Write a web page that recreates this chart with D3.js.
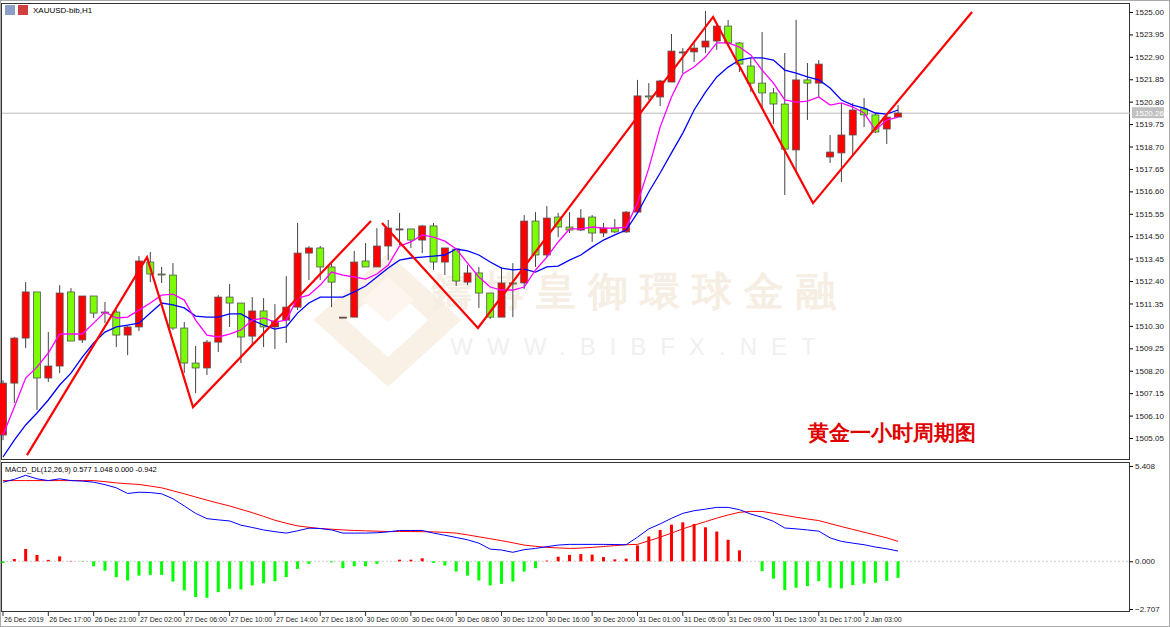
<!DOCTYPE html>
<html><head><meta charset="utf-8">
<script src="https://cdn.jsdelivr.net/npm/d3@7"></script>
<style>
body{margin:0;background:#fff;}
text{font-family:"Liberation Sans",Arial,sans-serif;}
</style></head>
<body><svg id="c" width="1170" height="627"></svg>
<script>
// OHLC per hourly bar (red = up, green = down)
const opens = [1505.19,1507.62,1509.73,1511.89,1507.86,1508.42,1511.89,1509.64,1511.70,1510.95,1510.95,1509.87,1510.25,1513.29,1512.73,1512.68,1510.20,1508.56,1508.33,1509.54,1511.65,1511.37,1509.82,1511.00,1510.25,1510.57,1511.18,1513.71,1513.95,1513.06,1510.71,1510.71,1513.34,1513.06,1514.04,1514.84,1514.84,1514.32,1514.98,1513.29,1513.90,1512.35,1512.78,1511.84,1510.71,1512.31,1512.31,1515.21,1513.62,1515.40,1514.93,1514.79,1515.40,1514.65,1514.88,1514.70,1515.63,1521.07,1521.02,1521.72,1523.13,1523.13,1523.36,1523.64,1524.34,1523.55,1522.47,1521.67,1521.21,1520.69,1518.54,1521.82,1521.67,1518.21,1518.40,1519.24,1520.46,1520.18,1519.52,1520.08];
const highs = [1507.76,1509.78,1512.35,1511.89,1510.01,1512.21,1512.07,1511.70,1511.70,1511.42,1511.04,1510.29,1513.57,1513.76,1513.06,1513.24,1510.48,1509.36,1509.64,1511.74,1512.26,1511.37,1511.65,1511.60,1511.32,1512.63,1515.12,1514.04,1514.04,1513.24,1510.71,1513.81,1514.18,1514.88,1515.26,1515.59,1514.84,1515.02,1515.12,1513.29,1513.90,1513.15,1513.06,1511.84,1513.06,1513.24,1515.49,1515.63,1515.91,1515.59,1515.63,1515.77,1515.49,1515.12,1515.30,1515.68,1521.82,1521.67,1521.82,1523.97,1523.31,1523.55,1525.05,1524.44,1524.63,1523.59,1522.85,1524.06,1521.44,1523.08,1524.63,1522.61,1522.75,1519.24,1520.74,1520.74,1520.97,1520.27,1520.18,1520.64];
const lows = [1504.95,1506.69,1509.26,1506.36,1507.67,1508.09,1509.59,1509.50,1510.67,1510.43,1509.31,1508.93,1510.06,1512.35,1512.31,1510.11,1508.09,1507.15,1508.00,1509.08,1510.25,1508.56,1509.40,1509.31,1509.22,1509.50,1511.04,1512.45,1512.45,1511.18,1510.71,1510.71,1513.06,1513.06,1513.38,1514.09,1513.95,1513.71,1512.92,1512.68,1512.17,1512.21,1511.14,1510.62,1510.71,1510.71,1512.03,1513.06,1513.52,1514.46,1514.65,1514.74,1514.23,1514.46,1514.65,1514.65,1515.59,1520.88,1520.60,1521.72,1522.14,1522.66,1523.08,1523.22,1523.55,1522.19,1521.25,1520.55,1519.75,1516.43,1517.46,1519.94,1521.02,1517.93,1517.04,1518.30,1519.61,1519.33,1518.82,1520.08];
const closes = [1507.62,1509.73,1511.89,1507.86,1508.42,1511.84,1509.59,1511.70,1510.90,1510.93,1509.87,1510.25,1513.34,1512.73,1512.71,1510.20,1508.56,1508.33,1509.54,1511.65,1511.37,1509.78,1511.00,1510.25,1510.53,1511.18,1513.71,1513.95,1513.06,1512.35,1510.71,1513.29,1513.06,1514.04,1514.88,1514.84,1514.32,1514.98,1513.29,1513.95,1512.40,1512.78,1511.84,1510.71,1512.31,1512.26,1515.21,1513.62,1515.35,1514.93,1514.79,1515.35,1514.65,1514.88,1514.70,1515.63,1521.07,1521.02,1521.77,1523.17,1523.13,1523.31,1523.64,1524.34,1523.55,1522.56,1521.67,1521.21,1520.69,1518.58,1521.82,1521.67,1522.56,1518.44,1519.24,1520.41,1520.18,1519.38,1520.08,1520.27];
const maFast = [1505.19,1506.50,1507.86,1508.37,1509.03,1509.92,1509.92,1509.92,1510.43,1510.95,1510.67,1510.71,1511.04,1511.37,1511.74,1511.79,1511.51,1510.57,1509.87,1509.78,1509.92,1510.11,1510.57,1510.67,1510.48,1510.57,1511.60,1511.74,1512.21,1512.82,1512.68,1512.59,1512.49,1512.73,1513.15,1514.04,1514.23,1514.56,1514.46,1514.27,1513.90,1513.24,1512.59,1512.12,1511.98,1511.98,1512.12,1512.92,1513.52,1514.23,1514.84,1514.84,1514.93,1514.88,1514.88,1514.93,1516.05,1517.69,1519.61,1521.02,1522.10,1522.42,1522.89,1523.55,1523.55,1523.36,1522.99,1522.28,1521.67,1520.88,1520.78,1520.83,1521.02,1520.64,1520.74,1520.55,1520.27,1519.47,1519.94,1520.08];
const maSlow = [1504.16,1504.95,1505.66,1506.22,1506.83,1507.53,1508.09,1508.84,1509.50,1510.01,1510.25,1510.34,1510.43,1510.90,1511.37,1511.28,1511.14,1510.76,1510.71,1510.71,1510.86,1510.86,1510.57,1510.34,1510.15,1510.25,1510.90,1511.37,1511.65,1511.65,1511.65,1511.89,1512.17,1512.59,1513.01,1513.38,1513.48,1513.52,1513.57,1513.62,1513.90,1513.81,1513.62,1513.29,1513.01,1512.92,1512.96,1512.82,1513.06,1513.10,1513.38,1513.62,1513.99,1514.32,1514.56,1514.79,1515.59,1516.57,1517.46,1518.40,1519.33,1520.41,1521.25,1521.96,1522.42,1522.75,1522.85,1522.85,1522.75,1522.28,1522.14,1521.96,1521.82,1521.44,1520.88,1520.64,1520.50,1520.27,1520.22,1520.41];
// hand drawn zigzag lines: [bar index, price]
const zigzagA = [[2.12,1504.25],[12.71,1513.52],[16.77,1506.50],[32.48,1515.21]];
const zigzagB = [[33.45,1515.12],[41.92,1510.20],[62.67,1524.77],[71.49,1516.05],[85.53,1525.00]];
// MACD(12,26,9)
const macdHist = [-0.10,0.13,0.70,0.36,0.08,0.28,0.02,-0.02,-0.28,-0.53,-0.90,-1.09,-0.81,-0.77,-0.77,-1.15,-1.65,-2.03,-2.07,-1.75,-1.56,-1.60,-1.37,-1.24,-1.13,-0.90,-0.43,-0.15,0,-0.06,-0.39,-0.28,-0.28,-0.15,0,0.09,0.09,0.17,-0.09,-0.24,-0.58,-0.81,-1.09,-1.37,-1.28,-1.15,-0.58,-0.39,0.04,0.26,0.36,0.41,0.38,0.24,0.11,0.15,0.90,1.41,1.78,2.08,2.21,2.12,1.93,1.69,1.22,0.62,0,-0.56,-0.98,-1.63,-1.50,-1.41,-1.13,-1.50,-1.54,-1.35,-1.26,-1.22,-1.11,-0.94];
const macdLine = [4.49,4.65,4.88,4.68,4.58,4.68,4.58,4.55,4.49,4.35,4.17,3.85,3.92,3.90,3.83,3.55,3.14,2.72,2.42,2.35,2.29,2.05,1.92,1.78,1.68,1.60,1.73,1.88,1.86,1.78,1.60,1.60,1.60,1.62,1.67,1.75,1.75,1.75,1.60,1.48,1.35,1.22,1.03,0.69,0.64,0.51,0.66,0.73,0.83,0.92,0.96,0.96,0.96,0.96,0.95,0.94,1.37,1.84,2.12,2.44,2.72,2.87,2.96,3.06,3.06,2.93,2.68,2.50,2.27,1.89,1.84,1.78,1.71,1.33,1.13,1.03,0.94,0.81,0.71,0.58];
const signalLine = [4.58,4.58,4.58,4.58,4.58,4.58,4.58,4.58,4.58,4.52,4.45,4.40,4.36,4.27,4.17,4.00,3.83,3.65,3.47,3.30,3.14,2.95,2.76,2.55,2.33,2.16,2.01,1.93,1.86,1.82,1.78,1.75,1.73,1.71,1.69,1.69,1.69,1.68,1.67,1.64,1.60,1.50,1.39,1.28,1.17,1.05,0.92,0.85,0.79,0.76,0.73,0.75,0.79,0.84,0.89,0.94,0.96,1.16,1.37,1.60,1.84,2.05,2.25,2.45,2.63,2.78,2.83,2.83,2.72,2.61,2.50,2.40,2.31,2.14,1.97,1.81,1.65,1.49,1.33,1.13];
const timeLabels = ["26 Dec 2019","26 Dec 17:00","26 Dec 21:00","27 Dec 02:00","27 Dec 06:00","27 Dec 10:00","27 Dec 14:00","27 Dec 18:00","30 Dec 00:00","30 Dec 04:00","30 Dec 08:00","30 Dec 12:00","30 Dec 16:00","30 Dec 20:00","31 Dec 01:00","31 Dec 05:00","31 Dec 09:00","31 Dec 13:00","31 Dec 17:00","2 Jan 03:00"];
const priceTicks = d3.range(20).map(k => +(1505.05 + k * 1.05).toFixed(2));
const lastPrice = 1520.26;

const svg = d3.select("#c");
const x = d3.scaleLinear().domain([0, 1]).range([3, 14.33]);
const y = d3.scaleLinear().domain([1505.05, 1525.00]).range([438, 12]);
const ym = d3.scaleLinear().domain([-2.707, 5.408]).range([609, 466]);

// frames
svg.append("rect").attr("x",0.5).attr("y",0.5).attr("width",1169).attr("height",626).attr("fill","none").attr("stroke","#aaa");
svg.append("rect").attr("x",1.5).attr("y",3.5).attr("width",1128).attr("height",456).attr("fill","none").attr("stroke","#333");
svg.append("rect").attr("x",1.5).attr("y",462.5).attr("width",1128).attr("height",149).attr("fill","none").attr("stroke","#333");

// watermark
const wm = svg.append("g");
wm.append("polygon").attr("points","388,268 445,320 388,372 330,320").attr("fill","none").attr("stroke","#f9f1e6").attr("stroke-width",22);
wm.append("polygon").attr("points","362,300 388,276 414,300 388,322").attr("fill","#fcf6ee");
wm.append("text").attr("x",640).attr("y",305).attr("text-anchor","middle").attr("font-size",40).attr("font-weight","bold")
  .attr("font-family","Noto Sans CJK TC").attr("fill","#f6eee3").attr("letter-spacing",12).text("鑄博皇御環球金融");
wm.append("text").attr("x",640).attr("y",355).attr("text-anchor","middle").attr("font-size",24)
  .attr("fill","#f0f0f0").attr("letter-spacing",14).text("WWW.BIBFX.NET");

const plot = svg.append("g");
plot.append("line").attr("x1",2).attr("x2",1130).attr("y1",y(lastPrice)).attr("y2",y(lastPrice)).attr("stroke","#bbb");

// candles
const idx = d3.range(opens.length);
const cg = plot.selectAll("g.c").data(idx).join("g");
cg.append("line").attr("x1",i=>x(i)).attr("x2",i=>x(i)).attr("y1",i=>y(highs[i])).attr("y2",i=>y(lows[i])).attr("stroke","#444");
cg.append("rect").attr("x",i=>x(i)-3.5).attr("width",7)
  .attr("y",i=>y(Math.max(opens[i],closes[i])))
  .attr("height",i=>Math.max(1,Math.abs(y(opens[i])-y(closes[i]))))
  .attr("fill",i=>closes[i]>=opens[i]?"#ff0000":"#7cfc00").attr("stroke","#555").attr("stroke-width",0.8);

const line = d3.line().x((d,i)=>x(i)).y(d=>y(d));
plot.append("path").attr("d",line(maSlow)).attr("fill","none").attr("stroke","#0000ff").attr("stroke-width",1.3);
plot.append("path").attr("d",line(maFast)).attr("fill","none").attr("stroke","#ff00ff").attr("stroke-width",1.3);
const zl = d3.line().x(d=>x(d[0])).y(d=>y(d[1]));
[zigzagA, zigzagB].forEach(z => plot.append("path").attr("d",zl(z)).attr("fill","none").attr("stroke","#ff0000").attr("stroke-width",2.2));

svg.append("text").attr("x",808).attr("y",440).attr("font-size",21).attr("font-weight","bold")
  .attr("font-family","Noto Sans CJK SC").attr("fill","#e00000").text("黄金一小时周期图");

// price axis
const pa = svg.append("g").attr("transform","translate(1130,0)")
  .call(d3.axisRight(y).tickValues(priceTicks).tickSize(3).tickFormat(d3.format(".2f")));
pa.select(".domain").remove();
pa.selectAll("text").attr("font-size",8).attr("fill","#222").attr("x",5);
const lp = svg.append("g").attr("transform",`translate(1132,${y(lastPrice)})`);
lp.append("rect").attr("y",-6).attr("width",32).attr("height",11).attr("fill","#c0c0c0");
lp.append("text").attr("x",3).attr("y",3).attr("font-size",8).attr("fill","#fff").text(lastPrice.toFixed(2));

svg.append("text").attr("x",33).attr("y",13).attr("font-size",8).attr("fill","#000").text("XAUUSD-bib,H1");
svg.append("rect").attr("x",5).attr("y",5).attr("width",10).attr("height",10).attr("fill","#8aa0c8");
svg.append("rect").attr("x",18).attr("y",5).attr("width",10).attr("height",10).attr("fill","#d04040");

// MACD pane
const mp = svg.append("g");
mp.append("line").attr("x1",2).attr("x2",1130).attr("y1",ym(0)).attr("y2",ym(0)).attr("stroke","#ccc").attr("stroke-dasharray","2,2");
mp.selectAll("rect.h").data(idx).join("rect").attr("x",i=>x(i)-1.5).attr("width",3)
  .attr("y",i=>ym(Math.max(0,macdHist[i]))).attr("height",i=>Math.abs(ym(macdHist[i])-ym(0)))
  .attr("fill",i=>macdHist[i]>=0?"#ff0000":"#00ff00");
const ml = d3.line().x((d,i)=>x(i)).y(d=>ym(d));
mp.append("path").attr("d",ml(signalLine)).attr("fill","none").attr("stroke","#ff0000");
mp.append("path").attr("d",ml(macdLine)).attr("fill","none").attr("stroke","#0000ff");
svg.append("text").attr("x",5).attr("y",472).attr("font-size",7.5).attr("fill","#000").text("MACD_DL(12,26,9) 0.577 1.048 0.000 -0.942");
const ma = svg.append("g").attr("transform","translate(1130,0)")
  .call(d3.axisRight(ym).tickValues([5.408,0,-2.707]).tickSize(3).tickFormat(d3.format(".3f")));
ma.select(".domain").remove();
ma.selectAll("text").attr("font-size",8).attr("fill","#222").attr("x",5);

// time axis
const ta = svg.append("g").attr("transform","translate(0,612)");
timeLabels.forEach((t,k) => {
  const xx = x(k*4);
  ta.append("line").attr("x1",xx).attr("x2",xx).attr("y1",0).attr("y2",4).attr("stroke","#333");
  ta.append("text").attr("x",xx+1).attr("y",10).attr("font-size",7).attr("fill","#222").text(t);
});
</script></body></html>
